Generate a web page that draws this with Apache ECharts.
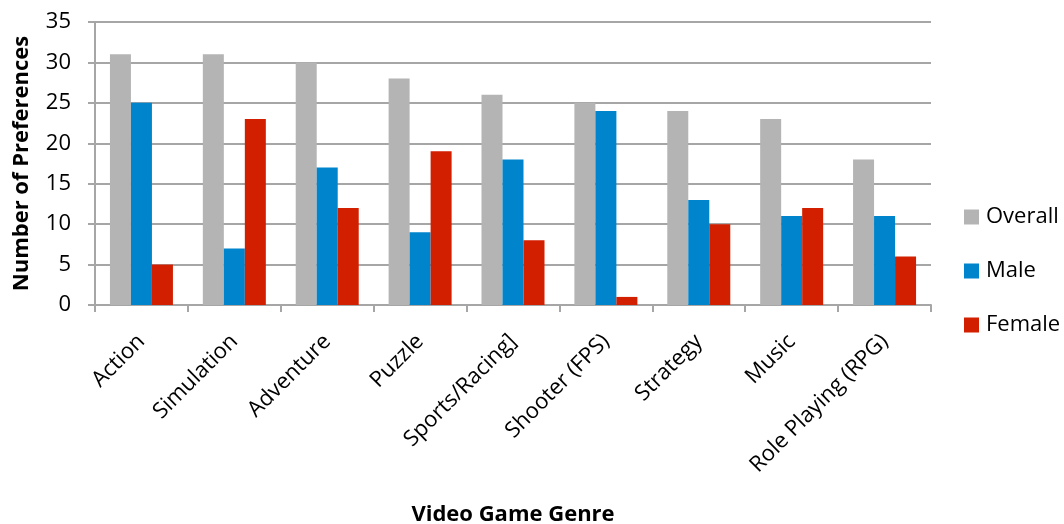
<!DOCTYPE html>
<html>
<head>
<meta charset="utf-8">
<script src="https://cdn.jsdelivr.net/npm/echarts@6/dist/echarts.min.js"></script>
<style>html,body{margin:0;padding:0;background:#fff}#c{width:1064px;height:524px}</style>
</head>
<body>
<div id="c"></div>
<script>
const categories = ["Action","Simulation","Adventure","Puzzle","Sports/Racing]","Shooter (FPS)","Strategy","Music","Role Playing (RPG)"];
const overall = [31,31,30,28,26,25,24,23,18];
const male = [25,7,17,9,18,24,13,11,11];
const female = [5,23,12,19,8,1,10,12,6];
const seriesNames = ["Overall","Male","Female"];
const yTicks = {min:0,max:35,interval:5};

const font = "'Open Sans', 'Liberation Sans', sans-serif";
const chart = echarts.init(document.getElementById('c'));
chart.setOption({
  animation:false,
  backgroundColor:'#fff',
  textStyle:{fontFamily:font},
  grid:{left:95,right:133,top:22,bottom:219,containLabel:false,outerBoundsMode:'none'},
  legend:{
    orient:'vertical', left:964, top:206, padding:0, itemWidth:15, itemHeight:15, itemGap:32,
    icon:'rect',
    textStyle:{fontFamily:font,fontSize:22,lineHeight:22,color:'#000',padding:[0,0,0,2]},
    data:seriesNames
  },
  xAxis:{
    type:'category', data:categories,
    axisLine:{lineStyle:{color:'#a6a6a6',width:2}},
    axisTick:{show:true,length:7,lineStyle:{color:'#a6a6a6',width:2}},
    axisLabel:{rotate:45,fontSize:22,color:'#000',fontFamily:font,margin:33},
    name:'Video Game Genre', nameLocation:'middle', nameGap:199,
    nameTextStyle:{fontFamily:font,fontSize:22,fontWeight:'bold',color:'#000'}
  },
  yAxis:{
    type:'value', min:yTicks.min, max:yTicks.max, interval:yTicks.interval,
    axisLine:{show:true,lineStyle:{color:'#a6a6a6',width:2}},
    axisTick:{show:true,length:7,lineStyle:{color:'#a6a6a6',width:2}},
    splitLine:{lineStyle:{color:'#a6a6a6',width:2}},
    axisLabel:{fontSize:22,color:'#000',fontFamily:font,margin:24},
    name:'Number of Preferences', nameLocation:'middle', nameGap:62, nameRotate:90,
    nameTextStyle:{fontFamily:font,fontSize:22,fontWeight:'bold',color:'#000'}
  },
  series:[
    {name:seriesNames[0],type:'bar',data:overall,barWidth:21,barGap:'0%',itemStyle:{color:'#b4b4b4'}},
    {name:seriesNames[1],type:'bar',data:male,barWidth:21,barGap:'0%',itemStyle:{color:'#0085cd'}},
    {name:seriesNames[2],type:'bar',data:female,barWidth:21,barGap:'0%',itemStyle:{color:'#d21f00'}}
  ]
});
</script>
</body>
</html>
